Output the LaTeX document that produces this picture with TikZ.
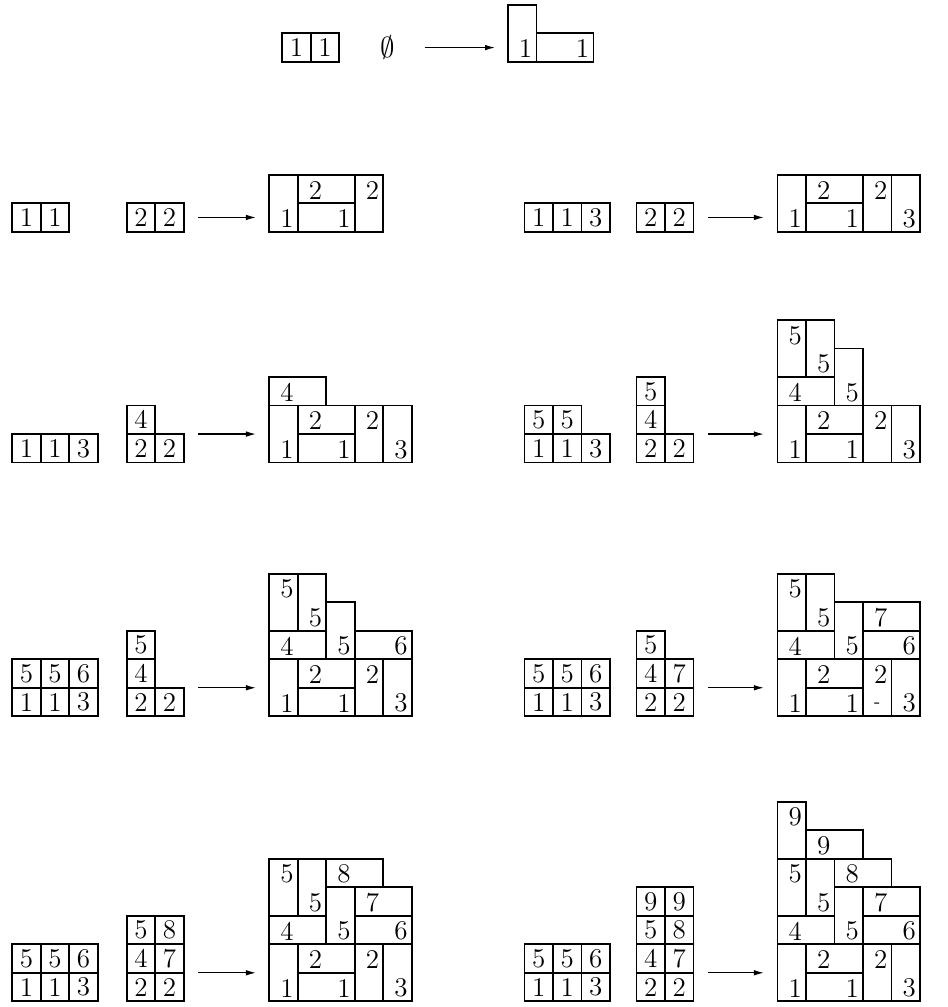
\documentclass[tikz,border=0pt]{standalone}
\usepackage{tikz}
\usetikzlibrary{arrows.meta}
\newcommand{\tabfont}{\fontsize{13.5}{14}\selectfont}
\tikzset{
  cell/.style={rectangle,draw,line width=0.9pt,minimum size=5mm,inner sep=0pt,font=\tabfont},
  dom/.style={draw,line width=0.9pt},
  num/.style={inner sep=0pt,font=\tabfont},
  fl/.style={-{Latex[length=5pt,width=2.8pt]},line width=0.6pt},
}
% one row of a small tableau: prefix, x, y, entries
\newcommand{\tabrow}[4]{%
  \foreach \t [count=\i from 0] in {#4}
    \node[cell] (#1\i) at (#2+\i+0.5,#3+0.5) {\t};}
% dominoes: name, x, y, labelled cell (0/1), label
\newcommand{\domH}[5]{%
  \draw[dom] (#2,#3) rectangle ++(2,1);
  \node[num] (#1) at (#2+#4+0.62,#3+0.46) {#5};}
\newcommand{\domV}[5]{%
  \draw[dom] (#2,#3) rectangle ++(1,2);
  \node[num] (#1) at (#2+0.62,#3+#4+0.46) {#5};}
\newcommand{\lowpart}[1]{%
  \domV{#1a}{0}{0}{0}{1}
  \domH{#1b}{1}{1}{0}{2}
  \domH{#1c}{1}{0}{1}{1}
  \domV{#1d}{3}{0}{1}{2}}
\newcommand{\lowpartx}[1]{%
  \lowpart{#1}
  \domV{#1e}{4}{0}{0}{3}}
\newcommand{\midpart}[1]{%
  \domH{#1f}{0}{2}{0}{4}
  \domV{#1g}{0}{3}{1}{5}
  \domV{#1h}{1}{3}{0}{5}
  \domV{#1i}{2}{2}{0}{5}}

\begin{document}
\begin{tikzpicture}[x=5mm,y=5mm]
  \useasboundingbox (0,0) rectangle (33.26,35.33);

  % top
  \tabrow{pa}{9.9}{33.16}{1,1}
  \node[num] (emp) at (13.61,33.66) {$\emptyset$};
  \coordinate (pas) at (14.9,33.66); \coordinate (pat) at (17.37,33.66);
  \draw[fl] (pas) -- (pat);
  \begin{scope}[shift={(17.82,33.16)}]
    \domV{pa1}{0}{0}{0}{1}
    \domH{pa2}{1}{0}{1}{1}
  \end{scope}

  % second row
  \tabrow{pba}{0.43}{27.2}{1,1}
  \tabrow{pbb}{4.45}{27.2}{2,2}
  \coordinate (pbs) at (6.95,27.7); \coordinate (pbt) at (8.98,27.7);
  \draw[fl] (pbs) -- (pbt);
  \begin{scope}[shift={(9.45,27.2)}]
    \lowpart{pb}
  \end{scope}

  \tabrow{pca}{18.4}{27.2}{1,1,3}
  \tabrow{pcb}{22.33}{27.2}{2,2}
  \coordinate (pcs) at (24.84,27.7); \coordinate (pct) at (26.8,27.7);
  \draw[fl] (pcs) -- (pct);
  \begin{scope}[shift={(27.28,27.2)}]
    \lowpartx{pc}
  \end{scope}

  % third row
  \tabrow{pda}{0.43}{19.1}{1,1,3}
  \tabrow{pdb}{4.45}{19.1}{2,2}
  \tabrow{pdc}{4.45}{20.1}{4}
  \coordinate (pds) at (6.95,20.1); \coordinate (pdt) at (8.98,20.1);
  \draw[fl] (pds) -- (pdt);
  \begin{scope}[shift={(9.45,19.1)}]
    \lowpartx{pd}
    \domH{pdf}{0}{2}{0}{4}
  \end{scope}

  \tabrow{pea}{18.4}{19.1}{1,1,3}
  \tabrow{peb}{18.4}{20.1}{5,5}
  \tabrow{pec}{22.33}{19.1}{2,2}
  \tabrow{ped}{22.33}{20.1}{4}
  \tabrow{pee}{22.33}{21.1}{5}
  \coordinate (pes) at (24.84,20.1); \coordinate (pet) at (26.8,20.1);
  \draw[fl] (pes) -- (pet);
  \begin{scope}[shift={(27.28,19.1)}]
    \lowpartx{pe}
    \midpart{pe}
  \end{scope}

  % fourth row
  \tabrow{pfa}{0.43}{10.2}{1,1,3}
  \tabrow{pfb}{0.43}{11.2}{5,5,6}
  \tabrow{pfc}{4.45}{10.2}{2,2}
  \tabrow{pfd}{4.45}{11.2}{4}
  \tabrow{pfe}{4.45}{12.2}{5}
  \coordinate (pfs) at (6.95,11.2); \coordinate (pft) at (8.98,11.2);
  \draw[fl] (pfs) -- (pft);
  \begin{scope}[shift={(9.45,10.2)}]
    \lowpartx{pf}
    \midpart{pf}
    \domH{pfj}{3}{2}{1}{6}
  \end{scope}

  \tabrow{pga}{18.4}{10.2}{1,1,3}
  \tabrow{pgb}{18.4}{11.2}{5,5,6}
  \tabrow{pgc}{22.33}{10.2}{2,2}
  \tabrow{pgd}{22.33}{11.2}{4,7}
  \tabrow{pge}{22.33}{12.2}{5}
  \coordinate (pgs) at (24.84,11.2); \coordinate (pgt) at (26.8,11.2);
  \draw[fl] (pgs) -- (pgt);
  \begin{scope}[shift={(27.28,10.2)}]
    \lowpartx{pg}
    \midpart{pg}
    \domH{pgj}{3}{2}{1}{6}
    \domH{pgk}{3}{3}{0}{7}
    \node[num,font=\small] (pgdash) at (3.5,0.4) {-};
  \end{scope}

  % fifth row
  \tabrow{pha}{0.43}{0.2}{1,1,3}
  \tabrow{phb}{0.43}{1.2}{5,5,6}
  \tabrow{phc}{4.45}{0.2}{2,2}
  \tabrow{phd}{4.45}{1.2}{4,7}
  \tabrow{phe}{4.45}{2.2}{5,8}
  \coordinate (phs) at (6.95,1.2); \coordinate (pht) at (8.98,1.2);
  \draw[fl] (phs) -- (pht);
  \begin{scope}[shift={(9.45,0.2)}]
    \lowpartx{ph}
    \midpart{ph}
    \domH{phj}{3}{2}{1}{6}
    \domH{phk}{3}{3}{0}{7}
    \domH{phl}{2}{4}{0}{8}
  \end{scope}

  \tabrow{pia}{18.4}{0.2}{1,1,3}
  \tabrow{pib}{18.4}{1.2}{5,5,6}
  \tabrow{pic}{22.33}{0.2}{2,2}
  \tabrow{pid}{22.33}{1.2}{4,7}
  \tabrow{pie}{22.33}{2.2}{5,8}
  \tabrow{pif}{22.33}{3.2}{9,9}
  \coordinate (pis) at (24.84,1.2); \coordinate (pit) at (26.8,1.2);
  \draw[fl] (pis) -- (pit);
  \begin{scope}[shift={(27.28,0.2)}]
    \lowpartx{pi}
    \midpart{pi}
    \domH{pij}{3}{2}{1}{6}
    \domH{pik}{3}{3}{0}{7}
    \domH{pil}{2}{4}{0}{8}
    \domH{pim}{1}{5}{0}{9}
    \domV{pin}{0}{5}{1}{9}
  \end{scope}
\end{tikzpicture}
\end{document}
